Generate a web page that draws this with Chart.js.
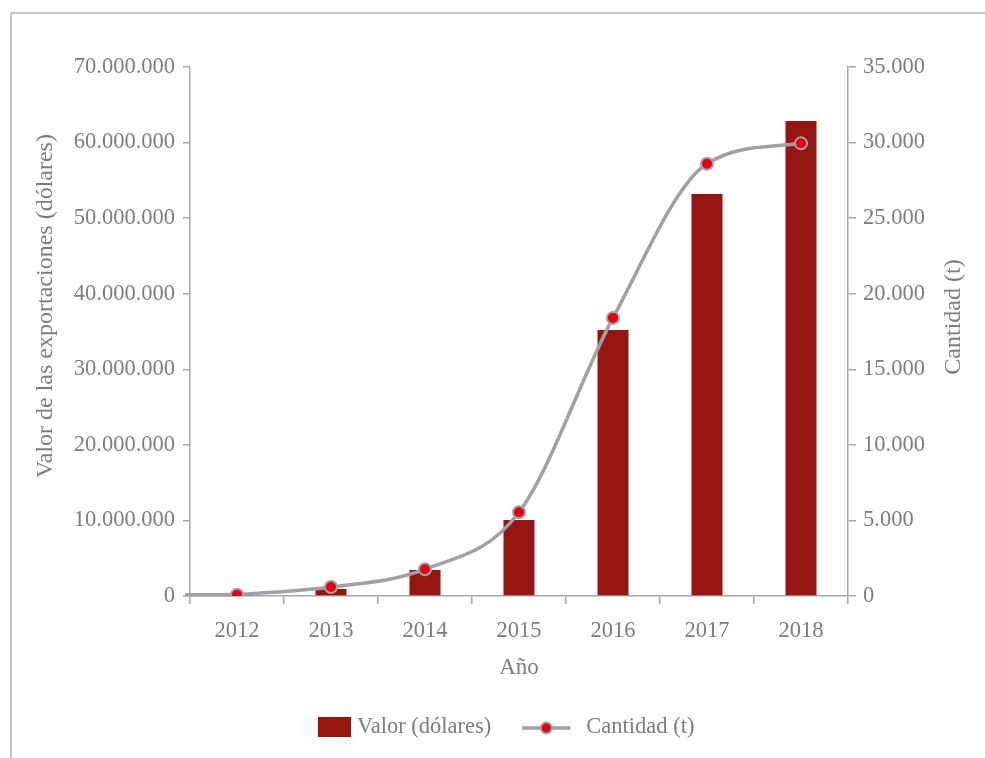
<!DOCTYPE html>
<html>
<head>
<meta charset="utf-8">
<script src="https://cdn.jsdelivr.net/npm/chart.js@4/dist/chart.umd.min.js"></script>
<style>
  html, body { margin: 0; padding: 0; background: #ffffff; }
  #wrap { position: relative; width: 985px; height: 758px; overflow: hidden; }
  #frame {
    position: absolute; left: 10px; top: 12px; right: 0; bottom: 0;
    border-top: 2px solid #c4c4c8; border-left: 2px solid #c4c4c8;
    pointer-events: none;
  }
  canvas { position: absolute; left: 0; top: 0; }
</style>
</head>
<body>
<div id="wrap">
  <canvas id="chart" width="985" height="758"></canvas>
  <div id="frame"></div>
</div>
<script>
// Exportaciones por año: valor (dólares) y cantidad (toneladas)
const years = ['2012', '2013', '2014', '2015', '2016', '2017', '2018'];
const valorDolares = [50000, 930000, 3440000, 10060000, 35200000, 53200000, 62850000];
const cantidadToneladas = [80, 600, 1770, 5540, 18400, 28600, 29950];

const valorTicks = { min: 0, max: 70000000, step: 10000000 };
const cantidadTicks = { min: 0, max: 35000, step: 5000 };

const labelValor = 'Valor (dólares)';
const labelCantidad = 'Cantidad (t)';
const titleX = 'Año';
const titleLeft = 'Valor de las exportaciones (dólares)';
const titleRight = 'Cantidad (t)';

const FONT = '"Liberation Serif", "DejaVu Serif", serif';
const TEXT = '#7c7c83';
const AXIS = '#a6a6ac';
const BAR = '#951511';
const LINE = '#a0a0a6';
const DOT = '#e3000f';

// thousands separator with dots
const fmt = v => String(Math.round(v)).replace(/\B(?=(\d{3})+(?!\d))/g, '.');

const decorations = {
  id: 'decorations',
  beforeDatasetDraw(chart, args) {
    // lead-in of the quantity curve from the axis to the first point
    if (args.index !== 1) return;
    const first = chart.getDatasetMeta(1).data[0];
    const ds = chart.data.datasets[1];
    const ctx = chart.ctx;
    ctx.save();
    ctx.strokeStyle = ds.borderColor;
    ctx.lineWidth = ds.borderWidth;
    ctx.lineCap = 'butt';
    ctx.beginPath();
    ctx.moveTo(chart.chartArea.left - 5, first.y);
    ctx.lineTo(first.x, first.y);
    ctx.stroke();
    ctx.restore();
  },
  afterDraw(chart) {
    const ctx = chart.ctx;
    const area = chart.chartArea;
    ctx.save();
    ctx.fillStyle = TEXT;
    ctx.textAlign = 'center';
    ctx.textBaseline = 'middle';

    // axis titles
    ctx.font = '23px ' + FONT;
    ctx.fillText(titleX, (area.left + area.right) / 2, 668);

    ctx.font = '24px ' + FONT;
    ctx.save();
    ctx.translate(46, 306);
    ctx.rotate(-Math.PI / 2);
    ctx.fillText(titleLeft, 0, 0);
    ctx.restore();

    ctx.save();
    ctx.translate(954, 317);
    ctx.rotate(-Math.PI / 2);
    ctx.fillText(titleRight, 0, 0);
    ctx.restore();

    // legend
    ctx.font = '22.5px ' + FONT;
    const bar = chart.data.datasets[0];
    const line = chart.data.datasets[1];
    const y = 727;
    let x = 318;
    ctx.fillStyle = bar.backgroundColor;
    ctx.fillRect(x, y - 10, 33, 20);
    x += 33 + 6;
    ctx.fillStyle = TEXT;
    ctx.textAlign = 'left';
    ctx.fillText(bar.label, x, y);
    x += ctx.measureText(bar.label).width + 31;

    ctx.strokeStyle = line.borderColor;
    ctx.lineWidth = line.borderWidth;
    ctx.beginPath();
    ctx.moveTo(x, y + 1);
    ctx.lineTo(x + 48, y + 1);
    ctx.stroke();
    ctx.beginPath();
    ctx.arc(x + 24, y + 1, line.pointRadius - 0.5, 0, Math.PI * 2);
    ctx.fillStyle = line.pointBackgroundColor;
    ctx.fill();
    ctx.lineWidth = line.pointBorderWidth;
    ctx.strokeStyle = line.pointBorderColor;
    ctx.stroke();
    x += 48 + 16;
    ctx.fillStyle = TEXT;
    ctx.fillText(line.label, x, y);
    ctx.restore();
  }
};

new Chart(document.getElementById('chart'), {
  type: 'bar',
  data: {
    labels: years,
    datasets: [
      {
        type: 'bar',
        label: labelValor,
        data: valorDolares,
        yAxisID: 'yValor',
        backgroundColor: BAR,
        borderWidth: 0,
        categoryPercentage: 1,
        barPercentage: 0.33,
        order: 1
      },
      {
        type: 'line',
        label: labelCantidad,
        data: cantidadToneladas,
        yAxisID: 'yCantidad',
        borderColor: LINE,
        borderWidth: 3.5,
        cubicInterpolationMode: 'monotone',
        pointRadius: 6,
        pointBorderWidth: 2,
        pointBackgroundColor: DOT,
        pointBorderColor: LINE,
        fill: false,
        order: 0
      }
    ]
  },
  options: {
    responsive: false,
    animation: false,
    devicePixelRatio: 1,
    layout: { padding: { top: 67, left: 0, right: 0, bottom: 0 } },
    plugins: {
      legend: { display: false },
      tooltip: { enabled: false }
    },
    scales: {
      x: {
        offset: true,
        grid: {
          display: true, offset: true, drawOnChartArea: false,
          drawTicks: true, tickLength: 8, color: AXIS, lineWidth: 1.5
        },
        border: { display: true, color: AXIS, width: 1.5 },
        ticks: {
          color: TEXT, font: { family: FONT, size: 22.5 }, padding: 14,
          maxRotation: 0, autoSkip: false
        },
        afterFit(scale) { scale.height = 162; }
      },
      yValor: {
        position: 'left',
        min: valorTicks.min, max: valorTicks.max,
        grid: {
          display: true, drawOnChartArea: false, drawTicks: true,
          tickLength: 7, color: AXIS, lineWidth: 1.5
        },
        border: { display: true, color: AXIS, width: 1.5 },
        ticks: {
          stepSize: valorTicks.step, color: TEXT,
          font: { family: FONT, size: 22.5 }, padding: 8,
          callback: v => fmt(v)
        },
        afterFit(scale) { scale.width = 190; }
      },
      yCantidad: {
        position: 'right',
        min: cantidadTicks.min, max: cantidadTicks.max,
        grid: {
          display: true, drawOnChartArea: false, drawTicks: true,
          tickLength: 8, color: AXIS, lineWidth: 1.5
        },
        border: { display: true, color: AXIS, width: 1.5 },
        ticks: {
          stepSize: cantidadTicks.step, color: TEXT,
          font: { family: FONT, size: 22.5 }, padding: 7,
          callback: v => fmt(v)
        },
        afterFit(scale) { scale.width = 137; }
      }
    }
  },
  plugins: [decorations]
});
</script>
</body>
</html>
